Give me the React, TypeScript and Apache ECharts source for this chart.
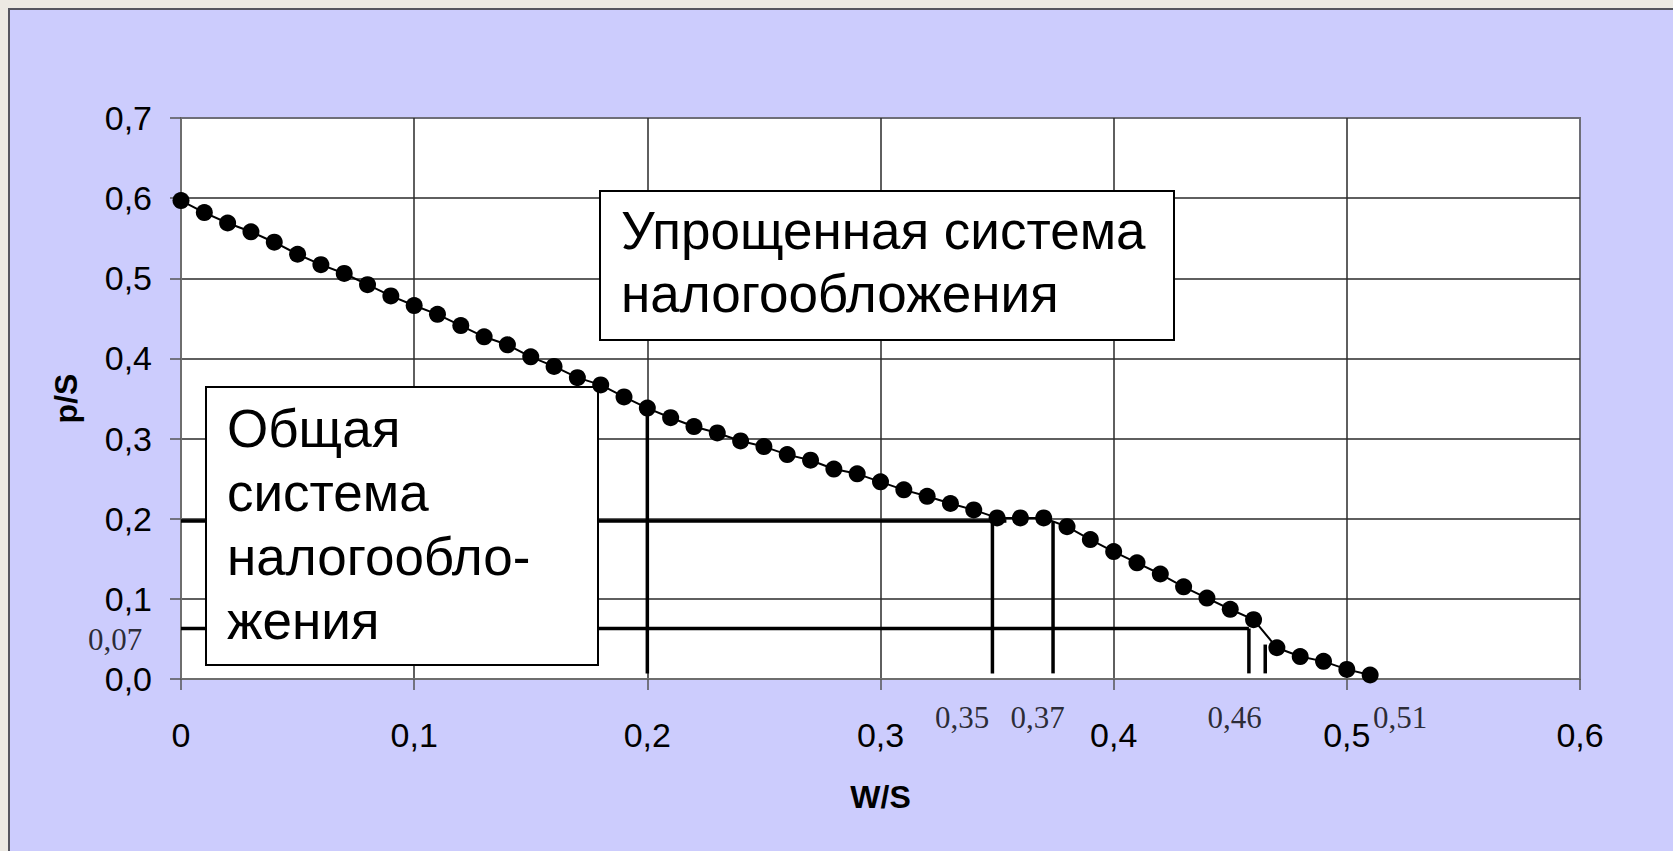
import React, { useEffect, useRef } from "react";
import * as echarts from "echarts";

// Curve: p/S as a function of W/S
const curveX = [
  0, 0.01, 0.02, 0.03, 0.04, 0.05, 0.06, 0.07, 0.08, 0.09,
  0.1, 0.11, 0.12, 0.13, 0.14, 0.15, 0.16, 0.17, 0.18, 0.19,
  0.2, 0.21, 0.22, 0.23, 0.24, 0.25, 0.26, 0.27, 0.28, 0.29,
  0.3, 0.31, 0.32, 0.33, 0.34, 0.35, 0.36, 0.37, 0.38, 0.39,
  0.4, 0.41, 0.42, 0.43, 0.44, 0.45, 0.46, 0.47, 0.48, 0.49,
  0.5, 0.51,
];
const curveY = [
  0.597, 0.582, 0.569, 0.558, 0.545, 0.53, 0.517, 0.506, 0.492, 0.478,
  0.466, 0.455, 0.441, 0.427, 0.417, 0.402, 0.39, 0.376, 0.367, 0.352,
  0.338, 0.326, 0.315, 0.307, 0.297, 0.29, 0.28, 0.273, 0.262, 0.256,
  0.246, 0.236, 0.228, 0.219, 0.211, 0.201, 0.201, 0.201, 0.19, 0.174,
  0.159, 0.145, 0.131, 0.115, 0.101, 0.087, 0.074, 0.039, 0.028, 0.022,
  0.012, 0.005,
];

// Reference segments [x1, y1, x2, y2]
const refSegments = [
  [0, 0.197, 0.354, 0.197],
  [0, 0.063, 0.458, 0.063],
  [0.2, 0.338, 0.2, 0.007],
  [0.348, 0.197, 0.348, 0.007],
  [0.374, 0.197, 0.374, 0.007],
  [0.458, 0.063, 0.458, 0.007],
  [0.465, 0.043, 0.465, 0.007],
];

// Annotated values on the axes
const markedX = [0.35, 0.37, 0.46, 0.51];
const markedY = [0.07];
const markedXOffsets = [
  [-35, 38],
  [-6, 38],
  [-19, 38],
  [30, 38],
];
const markedYOffsets = [[-66, 17]];

const boxUpper = ["Упрощенная система", "налогообложения"];
const boxLower = ["Общая", "система", "налогообло-", "жения"];

const SANS = "'Liberation Sans', Arial, sans-serif";
const SERIF = "'Liberation Serif', 'Times New Roman', serif";

const comma = (v: number, d: number) => v.toFixed(d).replace(".", ",");

export default function App() {
  const ref = useRef<HTMLDivElement>(null);

  useEffect(() => {
    if (!ref.current) return;
    const chart = echarts.init(ref.current, null, { renderer: "svg" });

    const curveData = curveX.map((x, i) => [x, curveY[i]]);

    const segSeries = refSegments.map((s) => ({
      type: "line",
      data: [
        [s[0], s[1]],
        [s[2], s[3]],
      ],
      showSymbol: false,
      symbol: "none",
      lineStyle: { color: "#000", width: 3.5 },
      z: 3,
      silent: true,
      clip: false,
    }));

    const annotData = [
      ...markedX.map((x, i) => ({
        value: [x, 0],
        label: {
          formatter: comma(x, 2),
          offset: markedXOffsets[i],
        },
      })),
      ...markedY.map((y, i) => ({
        value: [0, y],
        label: {
          formatter: comma(y, 2),
          offset: markedYOffsets[i],
        },
      })),
    ];

    const option: any = {
      animation: false,
      backgroundColor: "transparent",
      grid: {
        left: 181,
        top: 118,
        right: 93,
        bottom: 172,
        show: true,
        backgroundColor: "#ffffff",
        borderColor: "#6e6e78",
        borderWidth: 2,
      },
      xAxis: {
        type: "value",
        min: 0,
        max: 0.6,
        interval: 0.1,
        name: "W/S",
        nameLocation: "middle",
        nameGap: 102,
        nameTextStyle: {
          fontSize: 32,
          fontWeight: "bold",
          fontFamily: SANS,
          color: "#000",
        },
        axisLine: { show: true, lineStyle: { color: "#6e6e6e", width: 2 } },
        axisTick: {
          show: true,
          length: 11,
          lineStyle: { color: "#555", width: 1.5 },
        },
        axisLabel: {
          fontSize: 34,
          fontFamily: SANS,
          color: "#000",
          margin: 39,
          formatter: (v: number) => (v === 0 ? "0" : comma(v, 1)),
        },
        splitLine: {
          show: true,
          showMinLine: false,
          showMaxLine: false,
          lineStyle: { color: "#2a2a2a", width: 1.5 },
        },
      },
      yAxis: {
        type: "value",
        min: 0,
        max: 0.7,
        interval: 0.1,
        name: "p/S",
        nameLocation: "middle",
        nameGap: 99,
        nameRotate: 90,
        nameTextStyle: {
          fontSize: 32,
          fontWeight: "bold",
          fontFamily: SANS,
          color: "#000",
        },
        axisLine: { show: true, lineStyle: { color: "#6e6e6e", width: 2 } },
        axisTick: {
          show: true,
          length: 11,
          lineStyle: { color: "#555", width: 1.5 },
        },
        axisLabel: {
          fontSize: 34,
          fontFamily: SANS,
          color: "#000",
          margin: 29,
          formatter: (v: number) => comma(v, 1),
        },
        splitLine: {
          show: true,
          showMinLine: false,
          showMaxLine: false,
          lineStyle: { color: "#2a2a2a", width: 1.5 },
        },
      },
      graphic: [
        {
          type: "rect",
          z: 4,
          shape: { x: 600, y: 191, width: 574, height: 149 },
          style: { fill: "#fff", stroke: "#000", lineWidth: 2 },
        },
        {
          type: "text",
          z: 5,
          x: 621,
          y: 199,
          style: {
            text: boxUpper.join("\n"),
            fontSize: 53,
            fontFamily: SANS,
            fill: "#000",
            lineHeight: 63,
            verticalAlign: "top",
          },
        },
        {
          type: "rect",
          z: 4,
          shape: { x: 206, y: 387, width: 392, height: 278 },
          style: { fill: "#fff", stroke: "#000", lineWidth: 2 },
        },
        {
          type: "text",
          z: 5,
          x: 227,
          y: 396,
          style: {
            text: boxLower.join("\n"),
            fontSize: 53,
            fontFamily: SANS,
            fill: "#000",
            lineHeight: 64,
            verticalAlign: "top",
          },
        },
      ],
      series: [
        ...segSeries,
        {
          type: "line",
          data: curveData,
          symbol: "circle",
          symbolSize: 17,
          showSymbol: true,
          itemStyle: { color: "#000" },
          lineStyle: { color: "#000", width: 2 },
          z: 10,
          silent: true,
          clip: false,
        },
        {
          type: "scatter",
          data: annotData,
          symbolSize: 1,
          itemStyle: { color: "rgba(0,0,0,0)" },
          silent: true,
          clip: false,
          z: 11,
          label: {
            show: true,
            position: "inside",
            fontSize: 31,
            fontFamily: SERIF,
            color: "#000",
          },
        },
      ],
    };

    chart.setOption(option);
    return () => chart.dispose();
  }, []);

  return (
    <div
      style={{
        position: "fixed",
        left: 0,
        top: 0,
        width: 1673,
        height: 851,
        background: "#ece9e3",
        overflow: "hidden",
      }}
    >
      <div
        style={{
          position: "absolute",
          left: 8,
          top: 8,
          width: 1665,
          height: 843,
          background: "#ccccfd",
          borderLeft: "2px solid #55555f",
          borderTop: "2px solid #55555f",
          boxSizing: "border-box",
        }}
      />
      <div
        ref={ref}
        style={{ position: "absolute", left: 0, top: 0, width: 1673, height: 851 }}
      />
    </div>
  );
}
